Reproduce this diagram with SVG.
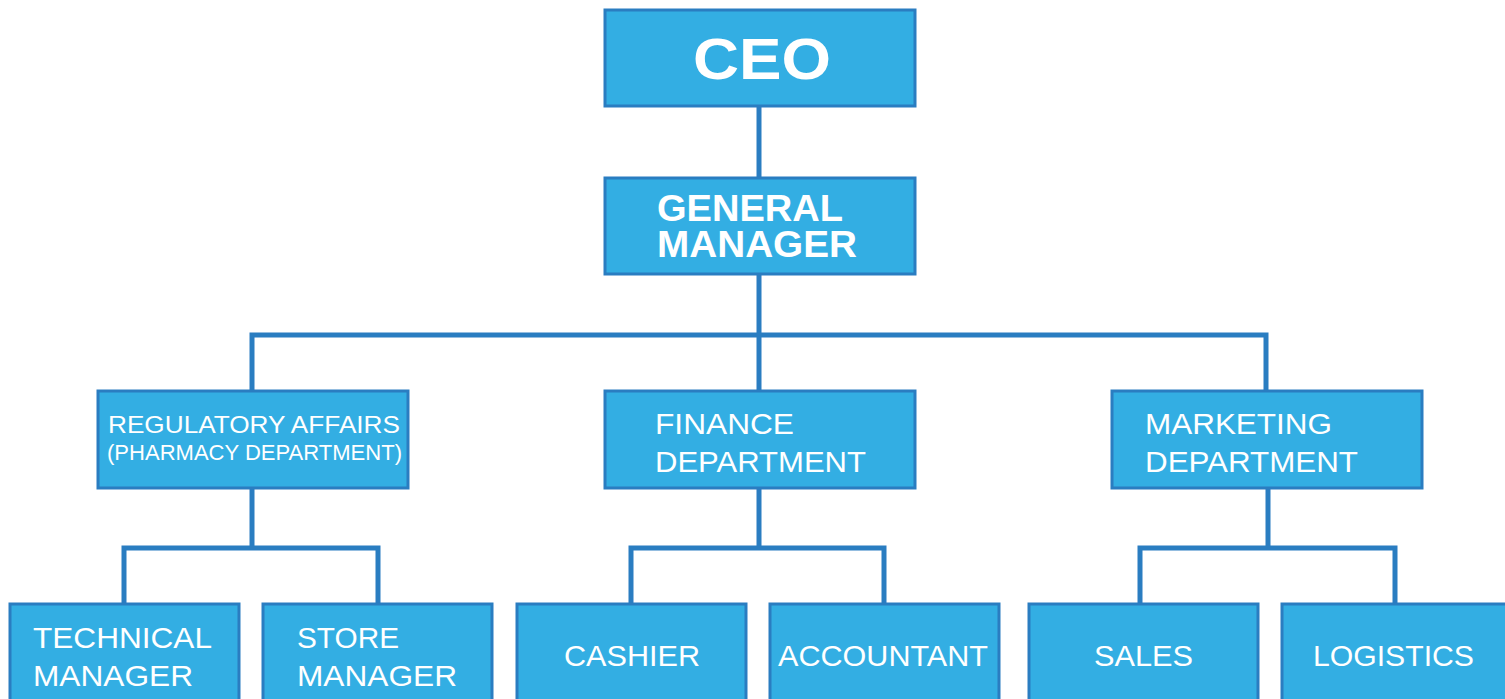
<svg xmlns="http://www.w3.org/2000/svg" width="1505" height="699" viewBox="0 0 1505 699">
<style>
.box{fill:#33AEE3;stroke:#2A7DC1;stroke-width:3}
.ln{fill:none;stroke:#2A7DC1;stroke-width:5;stroke-linejoin:miter}
.t{fill:#fff;font-family:"Liberation Sans","Arial",sans-serif}
.b{font-weight:bold}
</style>
<rect width="1505" height="699" fill="#fff"/>
<g id="connectors">
<path class="ln" d="M759 106V178"/>
<path class="ln" d="M759 274V391M252 391V335H1266V391"/>
<path class="ln" d="M252 488V548M124 604V548H378V604"/>
<path class="ln" d="M759 488V548M631 604V548H884V604"/>
<path class="ln" d="M1268 488V548M1140 604V548H1395V604"/>
</g>
<g id="ceo"><rect class="box" x="605" y="10" width="310" height="96"/><text class="t b" x="762" y="79" font-size="58" text-anchor="middle" textLength="138" lengthAdjust="spacingAndGlyphs">CEO</text></g>
<g id="gm"><rect class="box" x="605" y="178" width="310" height="96"/><text class="t b" x="657" y="221" font-size="36" textLength="186" lengthAdjust="spacingAndGlyphs">GENERAL</text><text class="t b" x="657" y="257" font-size="36" textLength="200" lengthAdjust="spacingAndGlyphs">MANAGER</text></g>
<g id="regulatory"><rect class="box" x="98" y="391" width="310" height="97"/><text class="t" x="108" y="433" font-size="24" textLength="292" lengthAdjust="spacingAndGlyphs">REGULATORY AFFAIRS</text><text class="t" x="107" y="460" font-size="22" textLength="295" lengthAdjust="spacingAndGlyphs">(PHARMACY DEPARTMENT)</text></g>
<g id="finance"><rect class="box" x="605" y="391" width="310" height="97"/><text class="t" x="655" y="434" font-size="30" textLength="139" lengthAdjust="spacingAndGlyphs">FINANCE</text><text class="t" x="655" y="472" font-size="30" textLength="211" lengthAdjust="spacingAndGlyphs">DEPARTMENT</text></g>
<g id="marketing"><rect class="box" x="1112" y="391" width="310" height="97"/><text class="t" x="1145" y="434" font-size="30" textLength="187" lengthAdjust="spacingAndGlyphs">MARKETING</text><text class="t" x="1145" y="472" font-size="30" textLength="213" lengthAdjust="spacingAndGlyphs">DEPARTMENT</text></g>
<g id="technical"><rect class="box" x="10" y="604" width="229" height="120"/><text class="t" x="33" y="648" font-size="30" textLength="179" lengthAdjust="spacingAndGlyphs">TECHNICAL</text><text class="t" x="33" y="686" font-size="30" textLength="160" lengthAdjust="spacingAndGlyphs">MANAGER</text></g>
<g id="store"><rect class="box" x="263" y="604" width="229" height="120"/><text class="t" x="297" y="648" font-size="30" textLength="102" lengthAdjust="spacingAndGlyphs">STORE</text><text class="t" x="297" y="686" font-size="30" textLength="160" lengthAdjust="spacingAndGlyphs">MANAGER</text></g>
<g id="cashier"><rect class="box" x="517" y="604" width="229" height="120"/><text class="t" x="564" y="666" font-size="30" textLength="136" lengthAdjust="spacingAndGlyphs">CASHIER</text></g>
<g id="accountant"><rect class="box" x="770" y="604" width="229" height="120"/><text class="t" x="778" y="666" font-size="30" textLength="210" lengthAdjust="spacingAndGlyphs">ACCOUNTANT</text></g>
<g id="sales"><rect class="box" x="1029" y="604" width="229" height="120"/><text class="t" x="1094" y="666" font-size="30" textLength="99" lengthAdjust="spacingAndGlyphs">SALES</text></g>
<g id="logistics"><rect class="box" x="1282" y="604" width="240" height="120"/><text class="t" x="1313" y="666" font-size="30" textLength="161" lengthAdjust="spacingAndGlyphs">LOGISTICS</text></g>
</svg>
